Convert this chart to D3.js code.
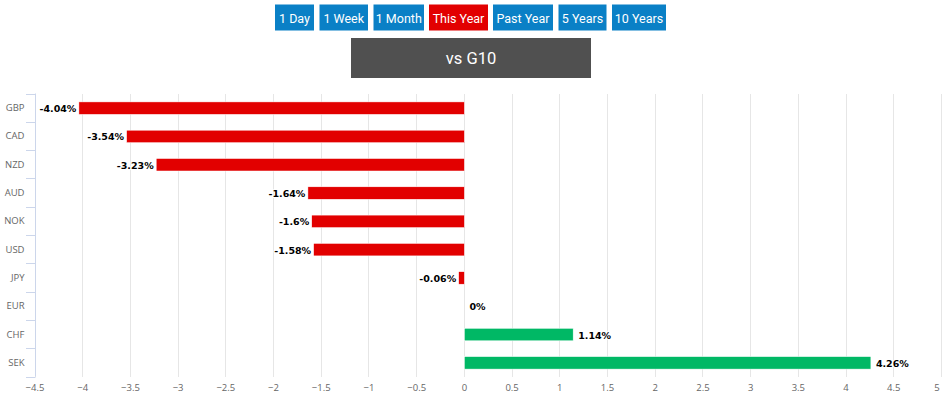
<!DOCTYPE html>
<html><head><meta charset="utf-8">
<script src="https://cdn.jsdelivr.net/npm/d3@7"></script>
<style>html,body{margin:0;padding:0;background:#fff;}svg{display:block;}</style>
</head><body>
<svg id="c" width="947" height="401"></svg>
<script>
const categories = ["GBP","CAD","NZD","AUD","NOK","USD","JPY","EUR","CHF","SEK"];
const values = [-4.04,-3.54,-3.23,-1.64,-1.6,-1.58,-0.06,0,1.14,4.26];
const labels = ["-4.04%","-3.54%","-3.23%","-1.64%","-1.6%","-1.58%","-0.06%","0%","1.14%","4.26%"];
const xTicks = [-4.5,-4,-3.5,-3,-2.5,-2,-1.5,-1,-0.5,0,0.5,1,1.5,2,2.5,3,3.5,4,4.5,5];
const buttons = ["1 Day","1 Week","1 Month","This Year","Past Year","5 Years","10 Years"];
const activeButton = "This Year";
const title = "vs G10";

const svg = d3.select("#c");
const RED = "#e20000", GREEN = "#00b865", BLUE = "#0a80c6";

// buttons
const btnX = [275,319.5,373.5,429,493,558.5,612];
const btnW = [39,48.5,50.5,59,60,48,54];
const bg = svg.append("g");
buttons.forEach((b,i)=>{
  bg.append("rect").attr("x",btnX[i]).attr("y",4.5).attr("width",btnW[i]).attr("height",26)
    .attr("fill", b===activeButton?RED:BLUE);
  bg.append("text").attr("x",btnX[i]+btnW[i]/2).attr("y",22.5).attr("text-anchor","middle")
    .attr("font-family","Roboto, Arial, sans-serif").attr("font-size",12.5).attr("fill","#fff").text(b);
});
svg.append("rect").attr("x",351).attr("y",38).attr("width",240).attr("height",40).attr("fill","#505050");
svg.append("text").attr("x",471).attr("y",64).attr("text-anchor","middle")
  .attr("font-family","Roboto, Arial, sans-serif").attr("font-size",16.5).attr("fill","#fff").text(title);

// scales
const x = d3.scaleLinear().domain([-4.5,5]).range([35,941.5]);
const y = d3.scaleBand().domain(categories).range([93.5,376.5]);

// grid
svg.append("g").selectAll("line").data(xTicks).join("line")
  .attr("x1",d=>x(d)).attr("x2",d=>x(d)).attr("y1",93.5).attr("y2",376.5)
  .attr("stroke","#e6e6e6").attr("stroke-width",1).attr("shape-rendering","crispEdges");

// x tick labels
svg.append("g").selectAll("text").data(xTicks).join("text")
  .attr("x",d=>Math.min(x(d),937)).attr("y",391).attr("text-anchor","middle")
  .attr("font-family","'Open Sans', Arial, sans-serif").attr("font-size",9.5).attr("fill","#666")
  .text(d=>d3.format("")(d).replace("-","\u2212"));

// category axis
const ya = svg.append("g");
ya.append("line").attr("x1",35.5).attr("x2",35.5).attr("y1",93.5).attr("y2",376.5).attr("stroke","#ccd6eb");
const bounds = categories.map(c=>y(c)).concat([y.range()[1]]);
ya.selectAll("line.t").data(bounds).join("line").attr("class","t")
  .attr("x1",26).attr("x2",35.5).attr("y1",d=>Math.round(d)+0.5).attr("y2",d=>Math.round(d)+0.5).attr("stroke","#ccd6eb");
ya.selectAll("text").data(categories).join("text")
  .attr("x",24.5).attr("y",d=>y(d)+y.bandwidth()/2+3.5).attr("text-anchor","end")
  .attr("font-family","'Open Sans', Arial, sans-serif").attr("font-size",9.5).attr("fill","#666").text(d=>d);

// bars
const bh = 12.5;
svg.append("g").selectAll("rect").data(values).join("rect")
  .attr("x",d=>x(Math.min(0,d))).attr("width",d=>Math.abs(x(d)-x(0)))
  .attr("y",(d,i)=>y(categories[i])+y.bandwidth()/2-bh/2+0.5).attr("height",bh)
  .attr("fill",d=>d<0?RED:GREEN).attr("stroke","#fff").attr("stroke-width",d=>d===0?0:0.5);

// data labels
svg.append("g").selectAll("text").data(values).join("text")
  .attr("x",d=>d<0?x(d)-2.5:x(d)+5).attr("y",(d,i)=>y(categories[i])+y.bandwidth()/2+4.5)
  .attr("text-anchor",d=>d<0?"end":"start")
  .attr("font-family","'DejaVu Sans', Verdana, sans-serif").attr("font-weight","bold").attr("font-size",9.5)
  .attr("fill","#000").attr("stroke","#fff").attr("stroke-width",2).attr("paint-order","stroke")
  .attr("stroke-linejoin","round")
  .text((d,i)=>labels[i]);
</script>
</body></html>
